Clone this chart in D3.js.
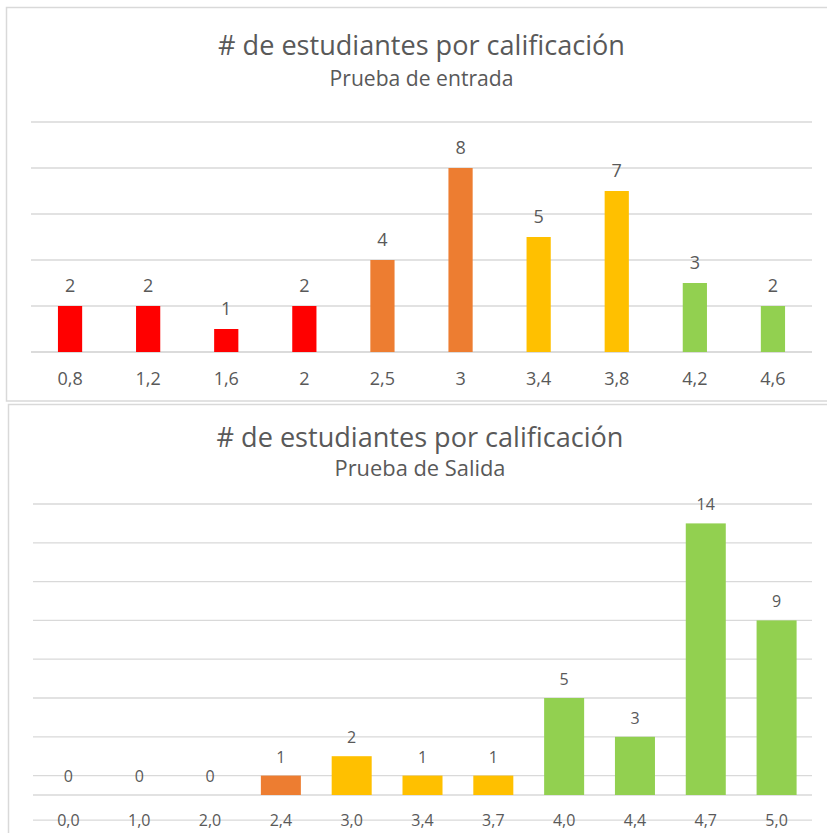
<!DOCTYPE html>
<html>
<head>
<meta charset="utf-8">
<script src="https://cdn.jsdelivr.net/npm/d3@7"></script>
<style>
  html, body { margin: 0; padding: 0; background: #ffffff; }
  svg { display: block; font-family: "Open Sans", "Noto Sans", sans-serif; }
</style>
</head>
<body>
<svg id="chart" width="827" height="833"></svg>
<script>
// Prueba de entrada
const entradaNotas = ["0,8", "1,2", "1,6", "2", "2,5", "3", "3,4", "3,8", "4,2", "4,6"];
const entradaEstudiantes = [2, 2, 1, 2, 4, 8, 5, 7, 3, 2];
const entradaNivel = ["bajo", "bajo", "bajo", "bajo", "basico", "basico", "alto", "alto", "superior", "superior"];
const entradaTicks = [0, 2, 4, 6, 8, 10];

// Prueba de salida
const salidaNotas = ["0,0", "1,0", "2,0", "2,4", "3,0", "3,4", "3,7", "4,0", "4,4", "4,7", "5,0"];
const salidaEstudiantes = [0, 0, 0, 1, 2, 1, 1, 5, 3, 14, 9];
const salidaNivel = ["bajo", "bajo", "bajo", "basico", "alto", "alto", "alto", "superior", "superior", "superior", "superior"];
const salidaTicks = [-1.3, 1, 3, 5, 7, 9, 11, 13, 15];

const niveles = ["bajo", "basico", "alto", "superior"];
const colorNivel = d3.scaleOrdinal(niveles, ["#ff0000", "#ed7d31", "#ffc000", "#92d050"]);

const svg = d3.select("#chart");
const TEXT = "#595959";
const GRID = "#d9d9d9";

// Scale a text element so its rendered width equals the given width
function fitWidth(sel, baseSize, width) {
  sel.attr("font-size", baseSize);
  const w = sel.node().getComputedTextLength();
  sel.attr("font-size", baseSize * width / w);
}

function drawChart(cfg) {
  const g = svg.append("g");

  // panel frame
  g.append("rect")
    .attr("x", cfg.frame[0]).attr("y", cfg.frame[1])
    .attr("width", 900).attr("height", cfg.frame[2])
    .attr("fill", "#ffffff").attr("stroke", GRID).attr("stroke-width", 1.5);

  const title = g.append("text")
    .attr("x", cfg.cx).attr("y", cfg.titleY)
    .attr("text-anchor", "middle").attr("fill", TEXT)
    .text("# de estudiantes por calificación");
  fitWidth(title, 22, 407);

  const sub = g.append("text")
    .attr("x", cfg.cx).attr("y", cfg.subY)
    .attr("text-anchor", "middle").attr("fill", TEXT)
    .text(cfg.subtitle);
  fitWidth(sub, 18, cfg.subWidth);

  const x = d3.scaleBand()
    .domain(cfg.notas)
    .range(cfg.xRange)
    .paddingInner(cfg.pad).paddingOuter(cfg.pad / 2);
  const y = d3.scaleLinear().domain(cfg.yDomain).range(cfg.yRange);

  // horizontal gridlines
  g.append("g")
    .selectAll("line")
    .data(cfg.ticks)
    .join("line")
    .attr("x1", cfg.xRange[0]).attr("x2", cfg.xRange[1])
    .attr("y1", d => y(d)).attr("y2", d => y(d))
    .attr("stroke", GRID).attr("stroke-width", 1.3);

  // category axis line at zero
  g.append("line")
    .attr("x1", cfg.xRange[0]).attr("x2", cfg.xRange[1])
    .attr("y1", y(0)).attr("y2", y(0))
    .attr("stroke", GRID).attr("stroke-width", 1.3);

  const rows = cfg.notas.map((n, i) => ({ nota: n, valor: cfg.valores[i], nivel: cfg.nivel[i] }));

  g.append("g")
    .selectAll("rect")
    .data(rows)
    .join("rect")
    .attr("x", d => x(d.nota))
    .attr("width", x.bandwidth())
    .attr("y", d => y(d.valor))
    .attr("height", d => y(0) - y(d.valor))
    .attr("fill", d => colorNivel(d.nivel));

  // value labels
  g.append("g")
    .selectAll("text")
    .data(rows)
    .join("text")
    .attr("x", d => x(d.nota) + x.bandwidth() / 2)
    .attr("y", d => y(d.valor) - cfg.labelGap)
    .attr("text-anchor", "middle")
    .attr("font-size", cfg.labelSize)
    .attr("fill", TEXT)
    .text(d => d.valor);

  // category labels
  const axis = d3.axisBottom(x).tickSize(0).tickPadding(0);
  const ax = g.append("g")
    .attr("transform", `translate(0,${cfg.axisY})`)
    .call(axis);
  ax.select(".domain").remove();
  ax.selectAll("text")
    .attr("dy", null)
    .attr("y", 0)
    .attr("font-size", cfg.labelSize)
    .attr("font-family", "\"Open Sans\", sans-serif")
    .attr("fill", TEXT);
}

drawChart({
  frame: [6.5, 7.5, 393.5],
  cx: 421.5, titleY: 54.5, subY: 86, subtitle: "Prueba de entrada", subWidth: 184,
  notas: entradaNotas, valores: entradaEstudiantes, nivel: entradaNivel, ticks: entradaTicks,
  xRange: [31, 812], pad: 0.69,
  yDomain: [0, 10], yRange: [352, 122],
  labelGap: 14, labelSize: 18, axisY: 385
});

drawChart({
  frame: [8.5, 404.5, 460],
  cx: 420, titleY: 446.5, subY: 476, subtitle: "Prueba de Salida", subWidth: 171,
  notas: salidaNotas, valores: salidaEstudiantes, nivel: salidaNivel, ticks: salidaTicks,
  xRange: [33, 812], pad: 0.435,
  yDomain: [0, 15], yRange: [795, 504],
  labelGap: 13, labelSize: 16, axisY: 825.5
});
</script>
</body>
</html>
